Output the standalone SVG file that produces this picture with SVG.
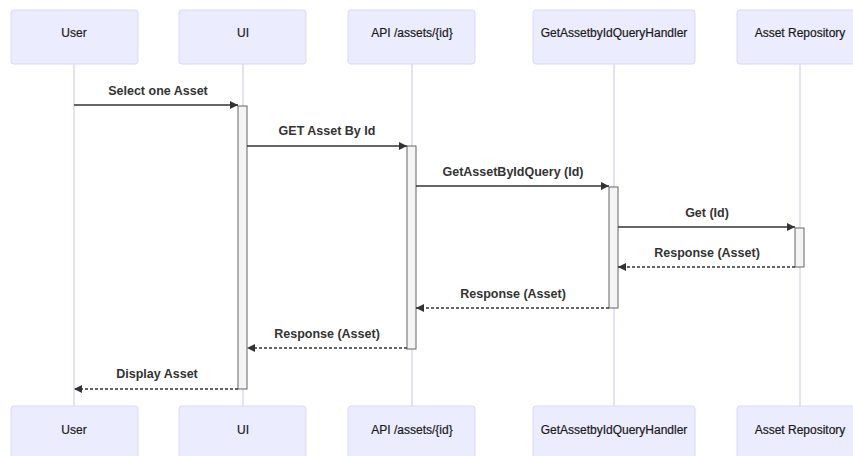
<svg xmlns="http://www.w3.org/2000/svg" width="853" height="456" viewBox="0 0 853 456">
  <style>
    .actor rect { fill: #ECECFF; stroke: #dcd6f5; stroke-width: 1; }
    .actor text { font-family: "Liberation Sans", Arial, sans-serif; font-size: 12px; fill: #1a1a1a; stroke: #1a1a1a; stroke-width: 0.2; text-anchor: middle; dominant-baseline: central; }
    .life { stroke: #d6cdf3; stroke-width: 1.2; }
    .act { fill: #f4f4f4; stroke: #666; stroke-width: 1; }
    .msg { stroke: #333; stroke-width: 1.4; fill: none; }
    .dash { stroke-dasharray: 3 2; }
    .lbl { font-family: "Liberation Sans", Arial, sans-serif; font-size: 12.5px; font-weight: bold; fill: #333; text-anchor: middle; }
  </style>
  <defs>
    <marker id="arrowhead" viewBox="0 0 10 10" refX="10" refY="5" markerWidth="9" markerHeight="8" markerUnits="userSpaceOnUse" orient="auto">
      <path d="M0,0 L10,5 L0,10 z" fill="#333"/>
    </marker>
  </defs>
  <rect width="853" height="456" fill="#fff"/>

  <!-- lifelines -->
  <g id="lifelines">
    <line class="life" x1="74" y1="64" x2="74" y2="406"/>
    <line class="life" x1="243" y1="64" x2="243" y2="406"/>
    <line class="life" x1="412" y1="64" x2="412" y2="406"/>
    <line class="life" x1="614" y1="64" x2="614" y2="406"/>
    <line class="life" x1="800" y1="64" x2="800" y2="406"/>
  </g>

  <!-- participants (top and bottom) -->
  <g id="user" class="actor">
    <rect x="11" y="10" width="127" height="54" rx="3"/>
    <text x="74" y="33">User</text>
    <rect x="11" y="406" width="127" height="54" rx="3"/>
    <text x="74" y="430">User</text>
  </g>
  <g id="ui" class="actor">
    <rect x="179" y="10" width="127" height="54" rx="3"/>
    <text x="243" y="33">UI</text>
    <rect x="179" y="406" width="127" height="54" rx="3"/>
    <text x="243" y="430">UI</text>
  </g>
  <g id="api" class="actor">
    <rect x="348" y="10" width="127" height="54" rx="3"/>
    <text x="412" y="33">API /assets/{id}</text>
    <rect x="348" y="406" width="127" height="54" rx="3"/>
    <text x="412" y="430">API /assets/{id}</text>
  </g>
  <g id="handler" class="actor">
    <rect x="533" y="10" width="162" height="54" rx="3"/>
    <text x="614" y="33">GetAssetbyIdQueryHandler</text>
    <rect x="533" y="406" width="162" height="54" rx="3"/>
    <text x="614" y="430">GetAssetbyIdQueryHandler</text>
  </g>
  <g id="repository" class="actor">
    <rect x="737" y="10" width="126" height="54" rx="3"/>
    <text x="800" y="33">Asset Repository</text>
    <rect x="737" y="406" width="126" height="54" rx="3"/>
    <text x="800" y="430">Asset Repository</text>
  </g>

  <!-- activation bars -->
  <g id="activations">
    <rect class="act" x="238" y="106" width="9" height="283"/>
    <rect class="act" x="407" y="146" width="9" height="203"/>
    <rect class="act" x="609" y="187" width="9" height="121"/>
    <rect class="act" x="795" y="228" width="9" height="39"/>
  </g>

  <!-- messages -->
  <g id="connectors">
    <line class="msg" x1="74" y1="105" x2="238" y2="105" marker-end="url(#arrowhead)"/>
    <text class="lbl" x="158" y="95">Select one Asset</text>

    <line class="msg" x1="247" y1="146" x2="407" y2="146" marker-end="url(#arrowhead)"/>
    <text class="lbl" x="327" y="135">GET Asset By Id</text>

    <line class="msg" x1="416" y1="186" x2="609" y2="186" marker-end="url(#arrowhead)"/>
    <text class="lbl" x="513" y="176">GetAssetByIdQuery (Id)</text>

    <line class="msg" x1="618" y1="227" x2="795" y2="227" marker-end="url(#arrowhead)"/>
    <text class="lbl" x="707" y="217">Get (Id)</text>

    <line class="msg dash" x1="795" y1="267" x2="618" y2="267" marker-end="url(#arrowhead)"/>
    <text class="lbl" x="707" y="257">Response (Asset)</text>

    <line class="msg dash" x1="609" y1="308" x2="416" y2="308" marker-end="url(#arrowhead)"/>
    <text class="lbl" x="513" y="298">Response (Asset)</text>

    <line class="msg dash" x1="407" y1="348" x2="247" y2="348" marker-end="url(#arrowhead)"/>
    <text class="lbl" x="327" y="338">Response (Asset)</text>

    <line class="msg dash" x1="238" y1="389" x2="74" y2="389" marker-end="url(#arrowhead)"/>
    <text class="lbl" x="157" y="378">Display Asset</text>
  </g>
</svg>
